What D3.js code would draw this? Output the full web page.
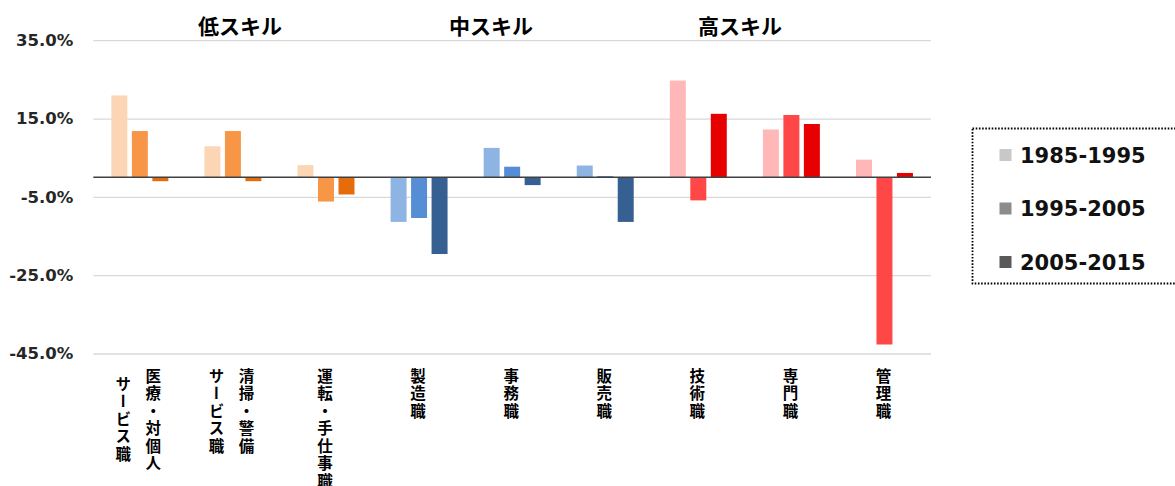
<!DOCTYPE html>
<html><head><meta charset="utf-8">
<script src="https://cdn.jsdelivr.net/npm/d3@7"></script>
<style>body{margin:0;background:#fff;overflow:hidden}</style>
</head><body><svg id="c" width="1175" height="486"></svg>
<script>
const categories = ["医療・対個人サービス職","清掃・警備サービス職","運転・手仕事職","製造職","事務職","販売職","技術職","専門職","管理職"];
const categoryLines = [["医療・対個人","サービス職"],["清掃・警備","サービス職"],["運転・手仕事職"],["製造職"],["事務職"],["販売職"],["技術職"],["専門職"],["管理職"]];
const skillOfCategory = ["低","低","低","中","中","中","高","高","高"];
const skillTitles = ["低スキル","中スキル","高スキル"];
const seriesNames = ["1985-1995","1995-2005","2005-2015"];
const v1985_1995 = [20.9, 7.9, 3.1, -11.4, 7.5, 3.0, 24.7, 12.2, 4.5];
const v1995_2005 = [11.8, 11.8, -6.2, -10.4, 2.7, 0.3, -5.9, 15.9, -42.7];
const v2005_2015 = [-1.0, -1.0, -4.4, -19.6, -2.0, -11.4, 16.2, 13.6, 1.1];
const yTicks = [35, 15, -5, -25, -45];
const skillColors = {"低":["#FCD5B5","#F79646","#E46C0A"],"中":["#8DB4E2","#558ED5","#366092"],"高":["#FFB7B7","#FF4747","#E60000"]};
const legendColors = ["#C8C8C8","#8C8C8C","#595959"];

const seriesValues = [v1985_1995, v1995_2005, v2005_2015];
const svg = d3.select("#c");
const L = 93.3, R = 931;
const x0 = d3.scaleBand().domain(categories).range([L, R]).paddingInner(0.388).paddingOuter(0.194);
const x1 = d3.scaleBand().domain(d3.range(seriesNames.length)).range([0, x0.bandwidth()]).paddingInner(0.22);
const y = d3.scaleLinear().domain([-45, 35]).range([353.5, 40.2]);

// grid + y labels
const yAxis = d3.axisLeft(y).tickValues(yTicks).tickSize(-(R - L)).tickFormat(d => d.toFixed(1) + "%");
const ga = svg.append("g").attr("transform", `translate(${L},0)`).call(yAxis);
ga.select(".domain").remove();
ga.selectAll(".tick line").attr("stroke", "#D9D9D9").attr("stroke-width", 1.3);
ga.selectAll(".tick text").attr("x", -20).attr("fill", "#262626")
  .style("font-family", "'DejaVu Sans', sans-serif").style("font-weight", "bold").style("font-size", "16.5px");

// bars
const rows = categories.map((c, i) => ({c, i}));
const gCat = svg.append("g").selectAll("g").data(rows).join("g")
  .attr("transform", d => `translate(${x0(d.c)},0)`);
gCat.selectAll("rect").data(d => seriesValues.map((vals, s) => ({s, v: vals[d.i], skill: skillOfCategory[d.i]})))
  .join("rect")
  .attr("x", d => x1(d.s))
  .attr("width", x1.bandwidth())
  .attr("y", d => y(Math.max(0, d.v)))
  .attr("height", d => Math.abs(y(d.v) - y(0)))
  .attr("fill", d => skillColors[d.skill][d.s]);

// zero line
svg.append("line").attr("x1", L).attr("x2", R).attr("y1", y(0)).attr("y2", y(0))
  .attr("stroke", "#404040").attr("stroke-width", 1.5);

// skill titles
const titleX = [240, 491, 740];
svg.append("g").selectAll("text").data(skillTitles).join("text")
  .attr("x", (d, i) => titleX[i]).attr("y", 34).attr("text-anchor", "middle")
  .style("font-family", "'Noto Sans CJK JP', sans-serif").style("font-weight", "bold").style("font-size", "21px")
  .attr("fill", "#000").text(d => d);

// category labels (vertical)
const gLab = svg.append("g");
rows.forEach(d => {
  const cx = x0(d.c) + x0.bandwidth() / 2;
  const lines = categoryLines[d.i];
  lines.forEach((t, k) => {
    const off = lines.length === 1 ? -1 : (k === 0 ? 13.5 : -16.5);
    gLab.append("text")
      .attr("x", cx + off).attr("y", 368 + (lines.length > 1 && k === 1 && d.i === 0 ? 8 : 0))
      .style("writing-mode", "vertical-rl")
      .style("font-family", "'Noto Sans CJK JP', sans-serif").style("font-weight", "bold").style("font-size", "15.5px")
      .style("letter-spacing", "2px")
      .attr("fill", "#000").text(t);
  });
});

// legend
svg.append("rect").attr("x", 972.5).attr("y", 128.5).attr("width", 230).attr("height", 155)
  .attr("fill", "none").attr("stroke", "#000").attr("stroke-width", 1.8).attr("stroke-dasharray", "1.6 1.6");
const legY = d3.scalePoint().domain(seriesNames).range([155, 262]);
const lg = svg.append("g").selectAll("g").data(seriesNames).join("g")
  .attr("transform", d => `translate(0,${legY(d)})`);
lg.append("rect").attr("x", 999.5).attr("y", -6).attr("width", 12).attr("height", 12)
  .attr("fill", (d, i) => legendColors[i]);
lg.append("text").attr("x", 1020).attr("y", 7.8).text(d => d).attr("fill", "#111")
  .style("font-family", "'DejaVu Sans', sans-serif").style("font-weight", "bold").style("font-size", "21px");
</script></body></html>
